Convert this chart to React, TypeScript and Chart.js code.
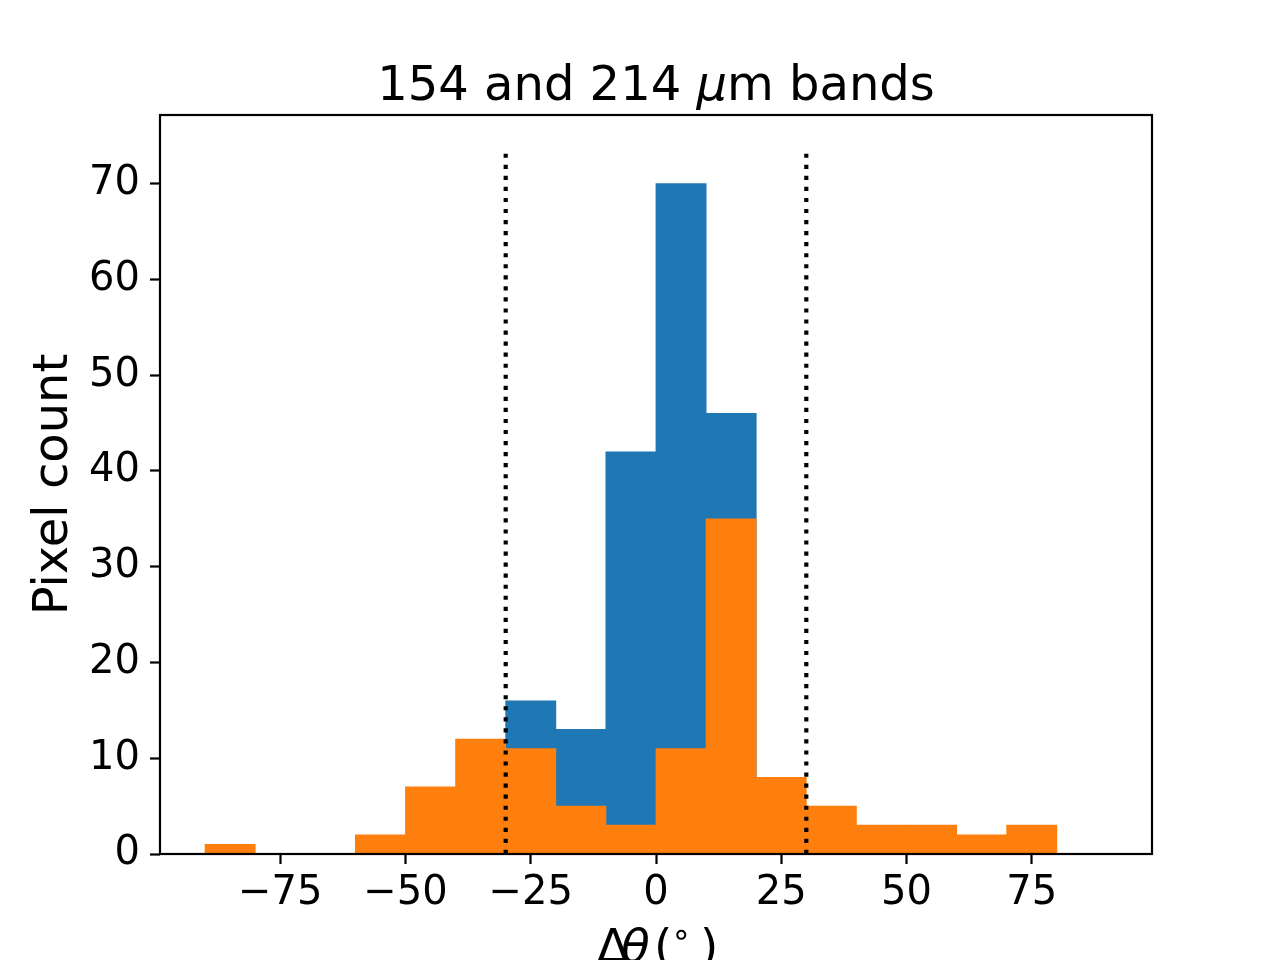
import React, { useEffect, useRef } from 'react';
import { Chart, registerables } from 'chart.js';

Chart.register(...registerables);

// Histogram bins (10 degrees wide), given by their centres
const binCenters = [-85, -75, -65, -55, -45, -35, -25, -15, -5, 5, 15, 25, 35, 45, 55, 65, 75, 85];
// 214 um band (orange, drawn on top)
const orangeCounts = [1, 0, 0, 2, 7, 12, 11, 5, 3, 11, 35, 8, 5, 3, 3, 2, 3, 0];
// 154 um band (blue, behind; null where hidden by the orange bars)
const blueCounts: (number | null)[] = [null, null, null, null, null, null, 16, 13, 42, 70, 46, null, null, null, null, null, null, null];
// dotted limits
const vlineX = [-30, 30];
const vlineTop = 73.5;
// ticks
const xTicks = [-75, -50, -25, 0, 25, 50, 75];
const yTicks = [0, 10, 20, 30, 40, 50, 60, 70];
const xMin = -99;
const xMax = 99;
const yMax = 77.175;

const BLUE = '#1f77b4';
const ORANGE = '#ff7f0e';
const FONT = "'DejaVu Sans', sans-serif";

const decorPlugin = {
  id: 'decor',
  afterDraw(chart: any) {
    const ctx = chart.ctx as CanvasRenderingContext2D;
    const a = chart.chartArea;
    ctx.save();
    // frame (all four spines)
    ctx.strokeStyle = '#000';
    ctx.lineWidth = 2.2;
    ctx.strokeRect(a.left, a.top, a.right - a.left, a.bottom - a.top);

    ctx.fillStyle = '#000';
    // title: "154 and 214 μm bands" with italic mu
    const cx = (a.left + a.right) / 2;
    const tSize = 48;
    const p1 = '154 and 214 ';
    const p2 = 'μ';
    const p3 = 'm bands';
    ctx.font = `${tSize}px ${FONT}`;
    const w1 = ctx.measureText(p1).width;
    const w3 = ctx.measureText(p3).width;
    ctx.font = `italic ${tSize}px ${FONT}`;
    const w2 = ctx.measureText(p2).width;
    let x = cx - (w1 + w2 + w3) / 2;
    ctx.textBaseline = 'alphabetic';
    ctx.textAlign = 'left';
    ctx.font = `${tSize}px ${FONT}`;
    ctx.fillText(p1, x, 100);
    x += w1;
    ctx.font = `italic ${tSize}px ${FONT}`;
    ctx.fillText(p2, x, 100);
    x += w2;
    ctx.font = `${tSize}px ${FONT}`;
    ctx.fillText(p3, x, 100);

    // y label
    ctx.save();
    ctx.translate(67, (a.top + a.bottom) / 2);
    ctx.rotate(-Math.PI / 2);
    ctx.textAlign = 'center';
    ctx.font = `48px ${FONT}`;
    ctx.fillText('Pixel count', 0, 0);
    ctx.restore();

    // x label: Δθ (°)
    const xb = 962;
    ctx.textAlign = 'left';
    ctx.font = `normal 47px ${FONT}`;
    ctx.fillText('\u0394', 597, xb);
    ctx.font = `italic 47px ${FONT}`;
    ctx.fillText('\u03b8', 621, xb);
    ctx.font = `normal 47px ${FONT}`;
    ctx.fillText('(', 654, xb);
    ctx.font = `normal 33px ${FONT}`;
    ctx.fillText('\u2218', 671, xb - 17);
    ctx.font = `normal 47px ${FONT}`;
    ctx.fillText(')', 700, xb);
    ctx.restore();
  },
};

function fmt(v: number) {
  return v < 0 ? '\u2212' + Math.abs(v) : String(v);
}

export default function App() {
  const ref = useRef<HTMLCanvasElement | null>(null);
  useEffect(() => {
    if (!ref.current) return;
    const vlineSets = vlineX.map((vx) => ({
      type: 'line' as const,
      data: [
        { x: vx, y: 0 },
        { x: vx, y: vlineTop },
      ],
      borderColor: '#000',
      borderWidth: 4.17,
      borderDash: [4.17, 6.88],
      borderCapStyle: 'butt' as const,
      pointRadius: 0,
      fill: false,
      order: 0,
    }));
    const chart = new Chart(ref.current, {
      type: 'bar',
      data: {
        datasets: [
          ...vlineSets,
          {
            type: 'bar',
            data: binCenters.map((c, i) => ({ x: c, y: orangeCounts[i] })),
            backgroundColor: ORANGE,
            borderWidth: 0,
            inflateAmount: 0.4,
            barPercentage: 1,
            categoryPercentage: 1,
            grouped: false,
            order: 1,
          },
          {
            type: 'bar',
            data: binCenters.map((c, i) => ({ x: c, y: blueCounts[i] })),
            backgroundColor: BLUE,
            borderWidth: 0,
            inflateAmount: 0.4,
            barPercentage: 1,
            categoryPercentage: 1,
            grouped: false,
            order: 2,
          },
        ] as any,
      },
      plugins: [decorPlugin],
      options: {
        animation: false,
        responsive: false,
        devicePixelRatio: 1,
        layout: { padding: { left: 0, top: 115, right: 128, bottom: 0 } },
        plugins: { legend: { display: false }, tooltip: { enabled: false }, title: { display: false } },
        scales: {
          x: {
            type: 'linear',
            min: xMin,
            max: xMax,
            offset: false,
            border: { display: false },
            grid: { display: true, offset: false, drawOnChartArea: false, drawTicks: true, tickLength: 10, tickWidth: 2.2, tickColor: '#000', color: '#000' },
            ticks: {
              color: '#000',
              font: { family: FONT, size: 40, lineHeight: 1 },
              padding: 10,
              maxRotation: 0,
              callback: (v: any) => fmt(Number(v)),
            },
            afterBuildTicks: (s: any) => {
              s.ticks = xTicks.map((v) => ({ value: v }));
            },
            afterFit: (s: any) => {
              s.height = 106;
            },
          },
          y: {
            type: 'linear',
            min: 0,
            max: yMax,
            border: { display: false },
            grid: { display: true, drawOnChartArea: false, drawTicks: true, tickLength: 10, tickWidth: 2.2, tickColor: '#000', color: '#000' },
            ticks: {
              color: '#000',
              font: { family: FONT, size: 40, lineHeight: 1 },
              padding: 10,
              callback: (v: any) => fmt(Number(v)),
            },
            afterBuildTicks: (s: any) => {
              s.ticks = yTicks.map((v) => ({ value: v }));
            },
            afterFit: (s: any) => {
              s.width = 160;
            },
          },
        },
      } as any,
    });
    return () => chart.destroy();
  }, []);
  return (
    <div style={{ position: 'fixed', left: 0, top: 0, width: 1280, height: 960, background: '#fff' }}>
      <canvas ref={ref} width={1280} height={960} style={{ width: 1280, height: 960, display: 'block' }} />
    </div>
  );
}
